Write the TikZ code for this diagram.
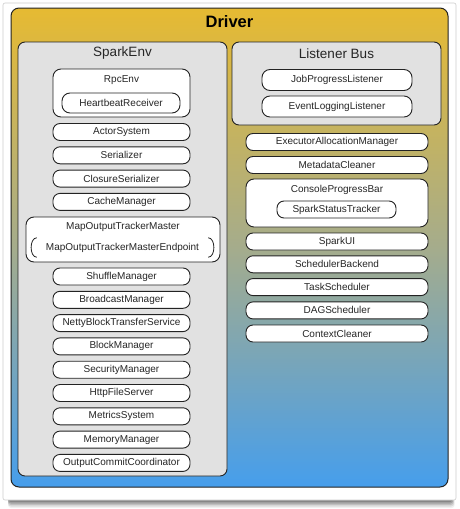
\documentclass[tikz,border=0pt]{standalone}
\usepackage{fontspec}
\setmainfont{Liberation Sans}
\usetikzlibrary{positioning}
\definecolor{gtop}{RGB}{230,186,50}
\definecolor{gmid}{RGB}{165,172,140}
\definecolor{gbot}{RGB}{70,158,236}
\definecolor{envgray}{RGB}{225,225,225}
\definecolor{edge}{RGB}{35,35,35}
\tikzset{
  item/.style={draw=edge, line width=0.9pt, fill=white, rounded corners=7pt, inner sep=0pt,
     font=\fontsize{10}{12}\selectfont, text=black!85},
  panel/.style={draw=edge, line width=0.9pt, fill=envgray, rounded corners=7pt, inner sep=0pt},
  holder/.style={draw=edge, line width=0.9pt, fill=white, rounded corners=8pt, inner sep=0pt},
  ttl/.style={font=\fontsize{13.5}{15}\selectfont, text=black!85, inner sep=0pt},
  itxt/.style={font=\fontsize{10}{12}\selectfont, text=black!85, inner sep=0pt},
}
\begin{document}
\begin{tikzpicture}[x=1pt,y=-1pt]
\useasboundingbox (0,0) rectangle (460,509);
% card and shadow
\foreach \o/\a in {8/0.06,6.5/0.09,5/0.12,3.5/0.15,2/0.18}{
  \fill[black,opacity=\a,rounded corners=3pt] (8,{480}) rectangle ({452+\o/3},{500+\o});
}
\fill[white,draw=black!20,line width=0.6pt,rounded corners=2pt] (3,3) rectangle (456,500);
% driver
\node[draw=edge, line width=1pt, rounded corners=8pt, top color=gtop, bottom color=gbot, middle color=gmid,
      minimum width=437pt, minimum height=479pt, inner sep=0pt] (driver) at (229.5,247.5) {};
\node[font=\bfseries\fontsize{16.5}{18}\selectfont, inner sep=0pt] (drivert) at (229.5,22) {Driver};
% SparkEnv panel
\node[panel, minimum width=209pt, minimum height=434pt] (sparkenv) at (122.5,259) {};
\node[ttl] (sparkenvt) at (122.5,53.5) {SparkEnv};
% Listener bus panel
\node[panel, minimum width=209pt, minimum height=83pt] (lbus) at (336.5,83.5) {};
\node[ttl] (lbust) at (336.5,53.5) {Listener Bus};
% RpcEnv
\node[holder, minimum width=137pt, minimum height=48pt] (rpcenv) at (121.5,93) {};
\node[itxt] (rpcenvt) at (121.5,80) {RpcEnv};
\node[item, minimum width=118pt, minimum height=20pt, rounded corners=8pt] (hbr) at (121,103) {HeartbeatReceiver};
% left items
\foreach \n/\y/\t in {actor/132/ActorSystem, ser/155.3/Serializer, cser/178.6/ClosureSerializer, cache/201.9/CacheManager,
   shuffle/276.5/ShuffleManager, bcast/299.8/BroadcastManager, netty/323.1/NettyBlockTransferService,
   bm/346.4/BlockManager, sec/369.7/SecurityManager, http/393/HttpFileServer, metrics/416.3/MetricsSystem,
   mem/439.6/MemoryManager, occ/462.9/OutputCommitCoordinator}{
  \node[item, minimum width=137pt, minimum height=17pt] (\n) at (121.5,\y) {\t};
}
% MapOutputTrackerMaster
\node[holder, minimum width=194pt, minimum height=45pt] (mot) at (123,239.5) {};
\node[itxt] (mott) at (123,227) {MapOutputTrackerMaster};
\node[itxt, minimum width=185pt, minimum height=19pt] (mote) at (122.5,247.5) {MapOutputTrackerMasterEndpoint};
\draw[edge, line width=0.8pt] ([xshift=7pt]mote.north west) to[out=180,in=180] ([xshift=7pt]mote.south west);
\draw[edge, line width=0.8pt] ([xshift=-7pt]mote.north east) to[out=0,in=0] ([xshift=-7pt]mote.south east);
% listeners
\node[item, minimum width=150pt, minimum height=21pt, rounded corners=8pt] (jpl) at (337,80) {JobProgressListener};
\node[item, minimum width=150pt, minimum height=21pt, rounded corners=8pt] (ell) at (337,106.5) {EventLoggingListener};
% right items
\foreach \n/\y/\t in {eam/142/ExecutorAllocationManager, mdc/165/MetadataCleaner,
   sui/241.5/SparkUI, sb/264.3/SchedulerBackend, ts/287.1/TaskScheduler, dag/310.4/DAGScheduler, cc/333.5/ContextCleaner}{
  \node[item, minimum width=182pt, minimum height=17pt] (\n) at (337,\y) {\t};
}
\node[holder, minimum width=182pt, minimum height=48pt] (cpb) at (337,203) {};
\node[itxt] (cpbt) at (337,190) {ConsoleProgressBar};
\node[item, minimum width=119pt, minimum height=17pt] (sst) at (336.5,209.5) {SparkStatusTracker};
\end{tikzpicture}
\end{document}
